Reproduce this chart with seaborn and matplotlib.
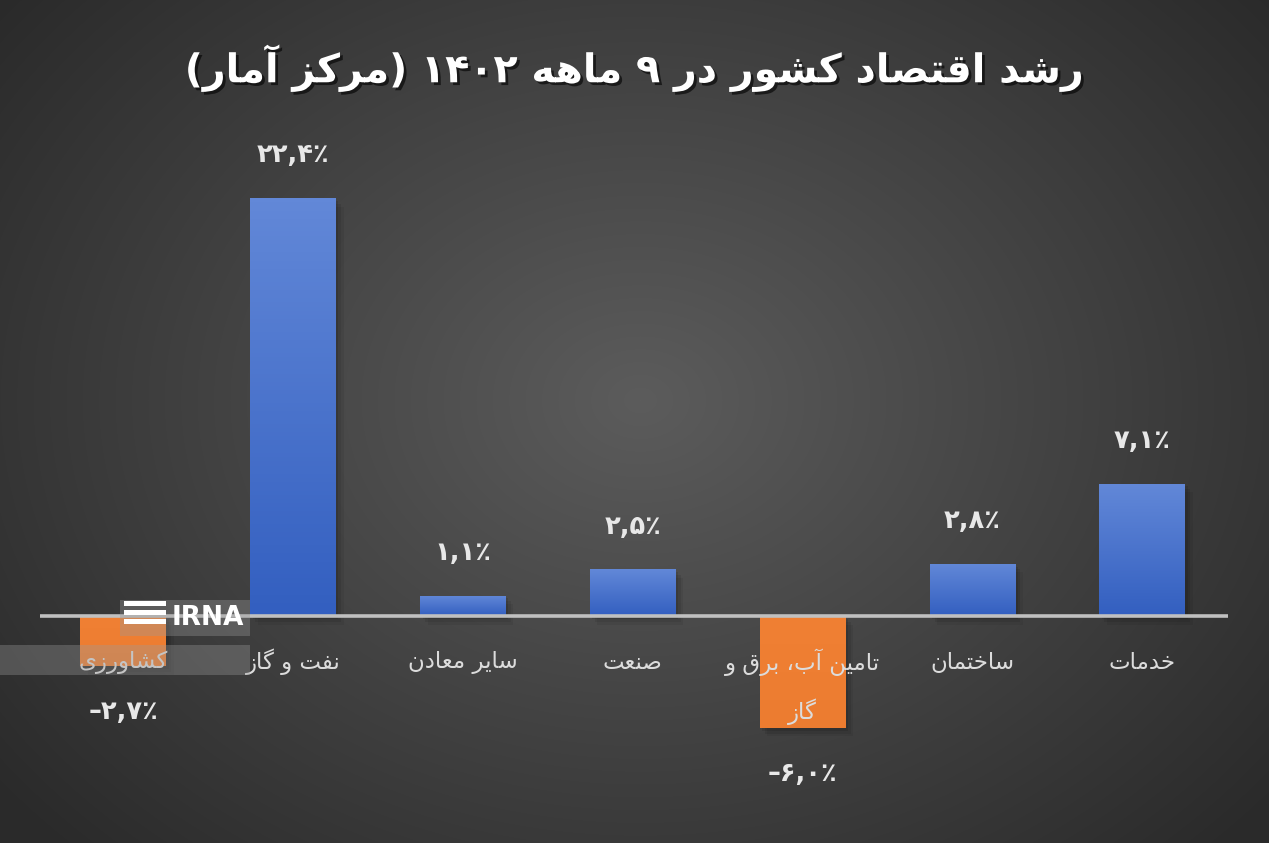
import numpy as np
import matplotlib
matplotlib.use("Agg")
import matplotlib.pyplot as plt
import matplotlib.patheffects as pe
from matplotlib.patches import Rectangle
import seaborn as sns

# ---------------- data ----------------
categories = ["کشاورزی", "نفت و گاز", "سایر معادن", "صنعت", "تامین آب، برق و گاز", "ساختمان", "خدمات"]
label_lines = [["کشاورزی"], ["نفت و گاز"], ["سایر معادن"], ["صنعت"],
               ["تامین آب، برق و", "گاز"], ["ساختمان"], ["خدمات"]]
values = [-2.7, 22.4, 1.1, 2.5, -6.0, 2.8, 7.1]
title = "رشد اقتصاد کشور در ۹ ماهه ۱۴۰۲ (مرکز آمار)"

# ---------------- minimal Persian shaping + bidi ----------------
DUAL = {
    'ب': (0xFE8F, 0xFE90, 0xFE91, 0xFE92), 'پ': (0xFB56, 0xFB57, 0xFB58, 0xFB59),
    'ت': (0xFE95, 0xFE96, 0xFE97, 0xFE98), 'ث': (0xFE99, 0xFE9A, 0xFE9B, 0xFE9C),
    'ج': (0xFE9D, 0xFE9E, 0xFE9F, 0xFEA0), 'چ': (0xFB7A, 0xFB7B, 0xFB7C, 0xFB7D),
    'ح': (0xFEA1, 0xFEA2, 0xFEA3, 0xFEA4), 'خ': (0xFEA5, 0xFEA6, 0xFEA7, 0xFEA8),
    'س': (0xFEB1, 0xFEB2, 0xFEB3, 0xFEB4), 'ش': (0xFEB5, 0xFEB6, 0xFEB7, 0xFEB8),
    'ص': (0xFEB9, 0xFEBA, 0xFEBB, 0xFEBC), 'ض': (0xFEBD, 0xFEBE, 0xFEBF, 0xFEC0),
    'ط': (0xFEC1, 0xFEC2, 0xFEC3, 0xFEC4), 'ظ': (0xFEC5, 0xFEC6, 0xFEC7, 0xFEC8),
    'ع': (0xFEC9, 0xFECA, 0xFECB, 0xFECC), 'غ': (0xFECD, 0xFECE, 0xFECF, 0xFED0),
    'ف': (0xFED1, 0xFED2, 0xFED3, 0xFED4), 'ق': (0xFED5, 0xFED6, 0xFED7, 0xFED8),
    'ک': (0xFB8E, 0xFB8F, 0xFB90, 0xFB91), 'گ': (0xFB92, 0xFB93, 0xFB94, 0xFB95),
    'ل': (0xFEDD, 0xFEDE, 0xFEDF, 0xFEE0), 'م': (0xFEE1, 0xFEE2, 0xFEE3, 0xFEE4),
    'ن': (0xFEE5, 0xFEE6, 0xFEE7, 0xFEE8), 'ه': (0xFEE9, 0xFEEA, 0xFEEB, 0xFEEC),
    'ی': (0xFBFC, 0xFBFD, 0xFBFE, 0xFBFF), 'ئ': (0xFE89, 0xFE8A, 0xFE8B, 0xFE8C),
}
RIGHT = {
    'ا': (0xFE8D, 0xFE8E), 'آ': (0xFE81, 0xFE82), 'د': (0xFEA9, 0xFEAA),
    'ذ': (0xFEAB, 0xFEAC), 'ر': (0xFEAD, 0xFEAE), 'ز': (0xFEAF, 0xFEB0),
    'ژ': (0xFB8A, 0xFB8B), 'و': (0xFEED, 0xFEEE),
}


def shape(s):
    out = []
    n = len(s)
    for i, c in enumerate(s):
        prev = s[i - 1] if i > 0 else None
        nxt = s[i + 1] if i + 1 < n else None
        jp = prev in DUAL
        if c in RIGHT:
            f = RIGHT[c]
            out.append(chr(f[1] if jp else f[0]))
        elif c in DUAL:
            f = DUAL[c]
            jn = (nxt in DUAL) or (nxt in RIGHT)
            if jp and jn:
                out.append(chr(f[3]))
            elif jp:
                out.append(chr(f[1]))
            elif jn:
                out.append(chr(f[2]))
            else:
                out.append(chr(f[0]))
        else:
            out.append(c)
    return "".join(out)


DIGITS = set("۰۱۲۳۴۵۶۷۸۹0123456789")


def rtl(s):
    sh = shape(s)
    runs = []
    cur = ""
    cur_digit = None
    for c in sh:
        d = c in DIGITS
        if cur_digit is None or d == cur_digit:
            cur += c
        else:
            runs.append((cur, cur_digit))
            cur = c
        cur_digit = d
    if cur:
        runs.append((cur, cur_digit))
    vis = []
    for r, d in reversed(runs):
        if d:
            vis.append(r)
        else:
            rr = r[::-1]
            rr = rr.translate(str.maketrans({'(': ')', ')': '('}))
            vis.append(rr)
    return "".join(vis)


def fa_num(v):
    s = f"{abs(v):.1f}".replace('.', ',')
    s = s.translate(str.maketrans("0123456789", "۰۱۲۳۴۵۶۷۸۹"))
    return ("–" if v < 0 else "") + s + "٪"


# ---------------- figure ----------------
W, H = 1269, 843
fig = plt.figure(figsize=(W / 100, H / 100), dpi=100)
plt.rcParams['font.family'] = ['DejaVu Sans']

# radial background
bg = fig.add_axes([0, 0, 1, 1], zorder=-10)
yy, xx = np.mgrid[0:H, 0:W]
r = np.sqrt(((xx - 640) / 820.0) ** 2 + ((yy - 400) / 640.0) ** 2)
r = np.clip(r, 0, 1)
c_in = np.array([0x5c, 0x5c, 0x5c]) / 255
c_out = np.array([0x2a, 0x2a, 0x2a]) / 255
img = c_in[None, None, :] * (1 - r[..., None]) + c_out[None, None, :] * r[..., None]
bg.imshow(img, aspect='auto', extent=[0, 1, 0, 1], origin='upper')
bg.set_axis_off()

# main axes: baseline at y=616 px, 18.66 px per unit
left_px, right_px = 40, 1228
top_px, bot_px = 131, 840
ax = fig.add_axes([left_px / W, (H - bot_px) / H, (right_px - left_px) / W, (bot_px - top_px) / H])
ax.patch.set_alpha(0)

colors = ["#ed7d31" if v < 0 else "#4472c4" for v in values]
sns.barplot(x=categories, y=values, hue=categories, palette=colors, legend=False,
            width=0.505, ax=ax, saturation=1, zorder=3)
ax.set_xlim(-0.49, 6.505)
ax.set_ylim(-12, 26)
for s in ax.spines.values():
    s.set_visible(False)
ax.set_xticks([])
ax.set_yticks([])
ax.set_xlabel("")
ax.set_ylabel("")

# gradient on bars + soft shadow
for p, v in zip(ax.patches, values):
    x0, y0 = p.get_x(), p.get_y()
    w, h = p.get_width(), p.get_height()
    ylo, yhi = min(y0, y0 + h), max(y0, y0 + h)
    for k, a in enumerate([0.10, 0.08, 0.06]):
        sh = Rectangle((x0 + 0.015 * (k + 1), ylo - 0.15 * (k + 1)), w, yhi - ylo,
                       color='black', alpha=a, zorder=2, lw=0)
        ax.add_patch(sh)
    if v > 0:
        top_c = np.array([0x62, 0x88, 0xd8]) / 255
        bot_c = np.array([0x33, 0x5f, 0xc0]) / 255
    else:
        top_c = np.array([0xf0, 0x80, 0x34]) / 255
        bot_c = np.array([0xec, 0x7c, 0x30]) / 255
    t = np.linspace(0, 1, 100)[:, None, None]
    grad = top_c[None, None, :] * (1 - t) + bot_c[None, None, :] * t
    im = ax.imshow(grad, aspect='auto', extent=[x0, x0 + w, ylo, yhi], origin='upper', zorder=4)
    im.set_clip_path(p)
    p.set_linewidth(0)

ax.axhline(0, color='#c0c0c0', lw=2.6, zorder=5)

# value labels
for i, v in enumerate(values):
    y = v + 2.3 if v >= 0 else v - 2.45
    ax.text(i, y, fa_num(v), ha='center', va='center', fontsize=18.5, fontweight='bold',
            color='#e8e8e8', zorder=6)

# category labels
for i, lines in enumerate(label_lines):
    for k, ln in enumerate(lines):
        ax.text(i, -2.47 - 2.68 * k, rtl(ln), ha='center', va='center', fontsize=16.5,
                color='#dcdcdc', zorder=6)

# title
fig.text(635 / W, 1 - 68 / H, rtl(title), ha='center', va='center', fontsize=28.5,
         fontweight='bold', color='white',
         path_effects=[pe.withSimplePatchShadow(offset=(2, -2), shadow_rgbFace='black', alpha=0.6)])

# IRNA watermark
fig.patches.append(Rectangle((0, 1 - 675 / H), 250 / W, 30 / H, transform=fig.transFigure,
                             facecolor='#9a9a9a', alpha=0.35, lw=0, zorder=20))
fig.patches.append(Rectangle((120 / W, 1 - 636 / H), 130 / W, 36 / H, transform=fig.transFigure,
                             facecolor='#9a9a9a', alpha=0.35, lw=0, zorder=20))
fig.text(208 / W, 1 - 618 / H, "IRNA", ha='center', va='center', fontsize=19, fontweight='bold',
         color='white', zorder=21)
for k in range(3):
    fig.patches.append(Rectangle((124 / W, 1 - (606 + 9 * k) / H), 42 / W, 5 / H,
                                 transform=fig.transFigure, facecolor='white', lw=0, zorder=21))

fig.savefig("out.png", dpi=100)
